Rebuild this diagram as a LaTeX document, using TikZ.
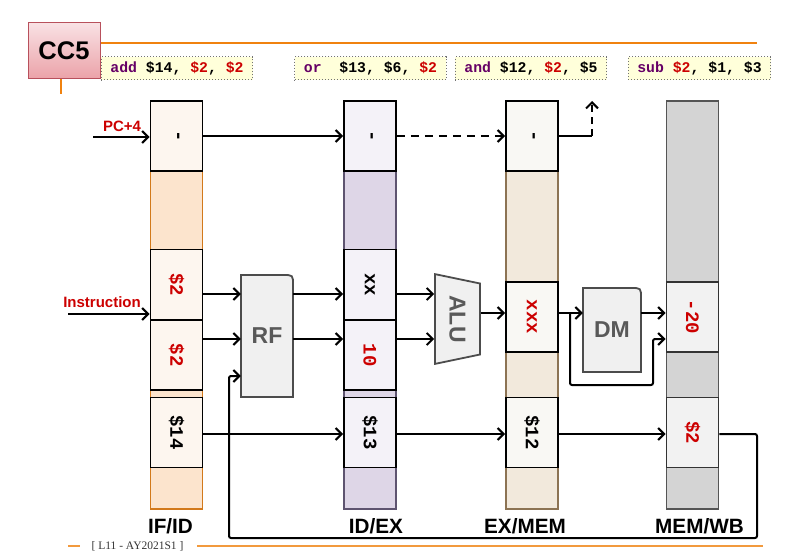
\documentclass[tikz,border=0pt]{standalone}
\usepackage{graphicx}
\usepackage{fontspec}
\setmainfont{Liberation Sans}
\newfontfamily\codefont{Liberation Mono}
\newfontfamily\slidefont{Liberation Serif}
\usetikzlibrary{shapes.geometric, arrows.meta, positioning}

\definecolor{mnem}{HTML}{660066}
\definecolor{regred}{HTML}{CC0000}
\definecolor{slideorange}{HTML}{F0820F}
\definecolor{footorange}{HTML}{F29A3E}
\definecolor{instfill}{HTML}{FFFFDA}
\definecolor{cctop}{HTML}{F9E1E4}
\definecolor{ccbottom}{HTML}{EBA2A8}
\definecolor{ccline}{HTML}{B8505C}
\definecolor{ifidband}{HTML}{FCE4CD}
\definecolor{ifidline}{HTML}{D2791B}
\definecolor{ifidcell}{HTML}{FDF6EF}
\definecolor{idexband}{HTML}{DED6E7}
\definecolor{idexline}{HTML}{5E5470}
\definecolor{idexcell}{HTML}{F4F2F8}
\definecolor{exmemband}{HTML}{F2E9DC}
\definecolor{exmemline}{HTML}{8C7353}
\definecolor{exmemcell}{HTML}{F9F8F4}
\definecolor{memwbband}{HTML}{D4D4D4}
\definecolor{memwbline}{HTML}{555555}
\definecolor{memwbcell}{HTML}{F2F2F2}

\tikzstyle{arrow} = [line width=2pt,-{Straight Barb[length=6pt,width=12pt]}]
\tikzstyle{wire} = [line width=2pt]
\tikzstyle{instbox} = [rectangle, draw=black!55, dotted, line width=1pt, fill=instfill, inner xsep=9pt, minimum height=23pt, font=\codefont\bfseries\fontsize{14.8}{16}\selectfont]
\tikzstyle{band} = [rectangle, line width=1.6pt, minimum width=52pt, minimum height=408pt, inner sep=0pt]
\tikzstyle{cell} = [rectangle, draw=black, line width=1.9pt, minimum width=52pt, minimum height=70pt, inner sep=0pt, font=\codefont\bfseries\fontsize{19}{19}\selectfont]
\tikzstyle{reglabel} = [inner sep=0pt, font=\bfseries\fontsize{20.7}{22}\selectfont]
\tikzstyle{blockline} = [draw=black!70, fill=black!6, line width=1.8pt]
\tikzstyle{blocktext} = [inner sep=0pt, text=black!65, font=\bfseries\fontsize{23}{23}\selectfont]
\tikzstyle{sig} = [inner sep=0pt, text=regred, font=\bfseries\fontsize{15}{15}\selectfont]

\newcommand{\vtext}[1]{\rotatebox{-90}{#1}}

\begin{document}
\begin{tikzpicture}[x=1pt, y=-1pt, node distance=8pt]
\useasboundingbox (0,0) rectangle (794,559);

% slide frame
\draw[slideorange, line width=2pt] (100,43) -- (757,43);
\draw[slideorange, line width=2pt] (61,79) -- (61,94);
\node (cc) [rectangle, draw=ccline, line width=1pt, top color=cctop, bottom color=ccbottom, minimum width=72pt, minimum height=56pt, font=\bfseries\fontsize{25.5}{25}\selectfont] at (64,51) {CC5};

\node (ins1) [instbox] at (177,68.5) {\textcolor{mnem}{add} \$14, \textcolor{regred}{\$2}, \textcolor{regred}{\$2}};
\node (ins2) [instbox] at (370.5,68.5) {\textcolor{mnem}{or}\ \ \$13, \$6, \textcolor{regred}{\$2}};
\node (ins3) [instbox] at (531,68.5) {\textcolor{mnem}{and} \$12, \textcolor{regred}{\$2}, \$5};
\node (ins4) [instbox] at (699.5,68.5) {\textcolor{mnem}{sub} \textcolor{regred}{\$2}, \$1, \$3};

% pipeline registers
\node (ifid) [band, draw=ifidline, fill=ifidband] at (176.5,305) {};
\node (ifid1) [cell, fill=ifidcell] at (176.5,136) {\vtext{-}};
\node (ifid2) [cell, fill=ifidcell, text=regred] at (176.5,284.5) {\vtext{\$2}};
\node (ifid3) [cell, fill=ifidcell, text=regred] at (176.5,355) {\vtext{\$2}};
\node (ifid4) [cell, fill=ifidcell] at (176.5,432.5) {\vtext{\$14}};

\node (idex) [band, draw=idexline, fill=idexband] at (370,305) {};
\node (idex1) [cell, fill=idexcell] at (370,136) {\vtext{-}};
\node (idex2) [cell, fill=idexcell] at (370,284.5) {\vtext{xx}};
\node (idex3) [cell, fill=idexcell, text=regred] at (370,355) {\vtext{10}};
\node (idex4) [cell, fill=idexcell] at (370,432.5) {\vtext{\$13}};

\node (exmem) [band, draw=exmemline, fill=exmemband] at (532,305) {};
\node (exmem1) [cell, fill=exmemcell] at (532,136) {\vtext{-}};
\node (exmem2) [cell, fill=exmemcell, text=regred] at (532,317) {\vtext{xxx}};
\node (exmem4) [cell, fill=exmemcell] at (532,432.5) {\vtext{\$12}};

\node (memwb) [band, draw=memwbline, fill=memwbband] at (692.5,305) {};
\node (memwb2) [cell, draw=black!80, fill=memwbcell, text=regred] at (692.5,317) {\vtext{-20}};
\node (memwb4) [cell, draw=black!80, fill=memwbcell, text=regred] at (692.5,432.5) {\vtext{\$2}};

\node (l1) [reglabel, below=8pt of ifid, xshift=-6pt] {IF/ID};
\node (l2) [reglabel, below=8pt of idex, xshift=6pt] {ID/EX};
\node (l3) [reglabel, below=8pt of exmem, xshift=-7pt] {EX/MEM};
\node (l4) [reglabel, below=8pt of memwb, xshift=7pt] {MEM/WB};

% units
\draw[blockline] (241,397) -- (241,275) -- (283,275) .. controls (293,275) .. (293,285) -- (293,397) -- cycle;
\node (rf) [blocktext, minimum width=52pt, minimum height=122pt] at (267,336) {RF};
\draw[blockline] (583,372) -- (583,288) -- (631,288) .. controls (641,288) .. (641,298) -- (641,372) -- cycle;
\node (dm) [blocktext, minimum width=58pt, minimum height=84pt] at (612,330) {DM};
\node (alu) [trapezium, trapezium left angle=68.75, trapezium right angle=68.75, trapezium stretches=true, minimum width=90pt, minimum height=45pt, blockline, blocktext, rotate=-90] at (457.5,319) {ALU};

% signals
\coordinate (pcin) at (93,137);
\coordinate (insin) at (68,314);
\node (pclbl) [sig] at (122,126) {PC+4};
\node (inslbl) [sig] at (102,302) {Instruction};
\coordinate (rowA) at (0,294);
\coordinate (rowB) at (0,339);
\coordinate (rowM) at (0,313);
\coordinate (rowD) at (0,434);
\coordinate (pcup) at (592,136);
\coordinate (pcout) at (592,101);
\coordinate (byp) at (570,313);
\coordinate (bypc) at (653,385);
\coordinate (wbr) at (757,538);
\coordinate (wbl) at (229,376);

\draw[arrow] (pcin) -- (ifid1.west |- pcin);
\draw[arrow] (ifid1) -- (idex1);
\draw[arrow, dash pattern=on 8pt off 6pt] (idex1) -- (exmem1);
\draw[wire] (exmem1) -- (pcup);
\draw[arrow, dash pattern=on 7pt off 5pt] (pcup) -- (pcout);

\draw[arrow] (insin) -- (ifid2.west |- insin);
\draw[arrow] (ifid2.east |- rowA) -- (rf.west |- rowA);
\draw[arrow] (ifid3.east |- rowB) -- (rf.west |- rowB);
\draw[arrow] (rf.east |- rowA) -- (idex2.west |- rowA);
\draw[arrow] (rf.east |- rowB) -- (idex3.west |- rowB);
\draw[arrow] (idex2.east |- rowA) -- (alu.south |- rowA);
\draw[arrow] (idex3.east |- rowB) -- (alu.south |- rowB);
\draw[arrow] (alu.north |- rowM) -- (exmem2.west |- rowM);
\draw[arrow] (exmem2.east |- rowM) -- (dm.west |- rowM);
\draw[arrow] (dm.east |- rowM) -- (memwb2.west |- rowM);
\draw[arrow, rounded corners=2pt] (byp) |- (bypc) |- (memwb2.west |- rowB);

\draw[arrow] (ifid4.east |- rowD) -- (idex4.west |- rowD);
\draw[arrow] (idex4.east |- rowD) -- (exmem4.west |- rowD);
\draw[arrow] (exmem4.east |- rowD) -- (memwb4.west |- rowD);
\draw[arrow, rounded corners=2pt] (memwb4.east |- rowD) -| (wbr) -| (wbl) -- (rf.west |- wbl);

% footer
\draw[footorange, line width=2.5pt] (68,546) -- (80,546);
\node (foot) [text=black!80, font=\slidefont\fontsize{11.5}{12}\selectfont] at (137.5,546) {[ L11 - AY2021S1 ]};
\draw[footorange, line width=2.5pt] (197,546) -- (763,546);
\end{tikzpicture}
\end{document}
